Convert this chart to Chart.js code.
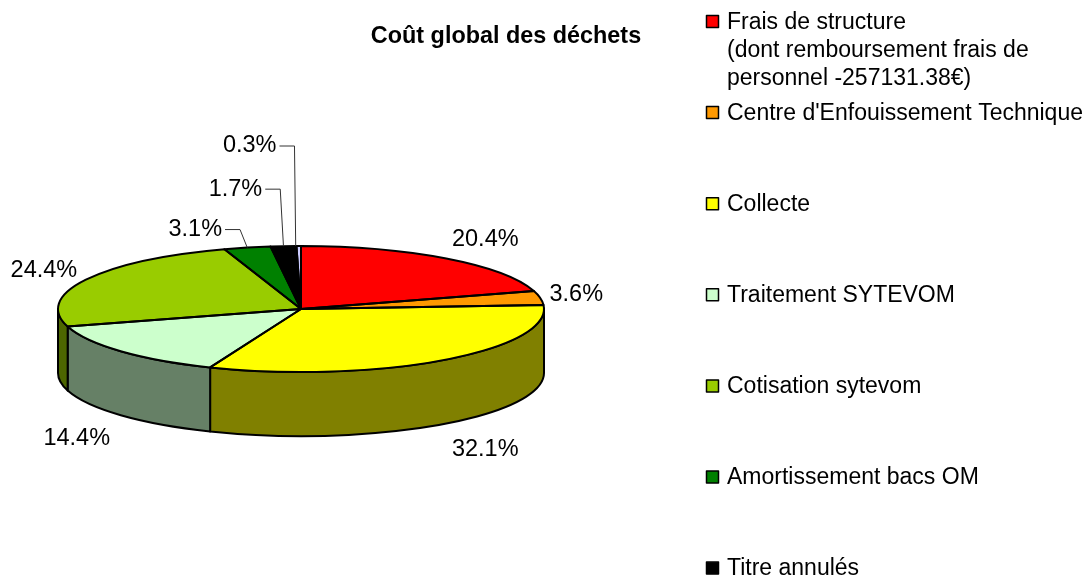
<!DOCTYPE html>
<html lang="fr"><head><meta charset="utf-8">
<script src="https://cdn.jsdelivr.net/npm/chart.js@4"></script>
<style>html,body{margin:0;padding:0;background:#fff}#w{width:1085px;height:577px;position:relative}</style>
</head><body><div id="w"><canvas id="c"></canvas></div>
<script>
const categories = ["Frais de structure","Centre d'Enfouissement Technique","Collecte","Traitement SYTEVOM","Cotisation sytevom","Amortissement bacs OM","Titre annulés",""];
const values = [20.4,3.6,32.1,14.4,24.4,3.1,1.7,0.3];
const colors = ["#FF0000","#FF9900","#FFFF00","#CCFFCC","#99CC00","#008000","#000000","#CCCCFF"];
const legendLines = [["Frais de structure","(dont remboursement frais de","personnel -257131.38€)"],["Centre d'Enfouissement Technique"],["Collecte"],["Traitement SYTEVOM"],["Cotisation sytevom"],["Amortissement bacs OM"],["Titre annulés"]];
const titleText = "Coût global des déchets";

const FONT = '"Liberation Sans", Arial, sans-serif';
const K = 63/243, DEPTH = 64;
// label offsets relative to the slice's mid-point on the rim; leader = has elbow line
const labelOff = [[39,-19],[36,-3],[42,89],[-44,87],[-42,-9],[-52,-18],[-48,-57],[-49,-100]];
const leader = [false,false,false,false,false,true,true,true];
const leaderEndDx = [0,0,0,0,0,0,0,-3];

function dark(hex){const n=parseInt(hex.slice(1),16);
  return `rgb(${Math.round((n>>16)/2)},${Math.round(((n>>8)&255)/2)},${Math.round((n&255)/2)})`;}

const pie3d = {
  id:'pie3d',
  beforeDatasetsDraw(chart){
    const ctx=chart.ctx, arcs=chart.getDatasetMeta(0).data;
    const {x,y}=arcs[0];
    ctx.save();
    ctx.lineWidth=2; ctx.strokeStyle='#000'; ctx.lineJoin='round';
    // side wall
    arcs.forEach((a,i)=>{
      const s=Math.max(a.startAngle,0), e=Math.min(a.endAngle,Math.PI);
      if(e<=s) return;
      const R=a.outerRadius;
      ctx.beginPath();
      ctx.ellipse(a.x,a.y,R,R*K,0,s,e);
      ctx.ellipse(a.x,a.y+DEPTH,R,R*K,0,e,s,true);
      ctx.closePath();
      ctx.fillStyle=dark(colors[i]);
      ctx.fill(); ctx.stroke();
    });
    ctx.restore();
    // flatten the library's own arcs into the ellipse
    ctx.save();
    ctx.translate(x,y); ctx.scale(1,K); ctx.translate(-x,-y);
  },
  afterDatasetsDraw(chart){
    const ctx=chart.ctx, arcs=chart.getDatasetMeta(0).data;
    ctx.restore();
    ctx.save();
    ctx.lineWidth=2; ctx.strokeStyle='#000'; ctx.lineJoin='round';
    arcs.forEach((a)=>{
      const R=a.outerRadius;
      ctx.beginPath();
      ctx.moveTo(a.x,a.y);
      ctx.ellipse(a.x,a.y,R,R*K,0,a.startAngle,a.endAngle);
      ctx.closePath();
      ctx.stroke();
    });
    // value labels
    ctx.font='23.5px '+FONT; ctx.textBaseline='middle'; ctx.textAlign='center';
    arcs.forEach((a,i)=>{
      const m=(a.startAngle+a.endAngle)/2, R=a.outerRadius;
      const px=a.x+R*Math.cos(m), py=a.y+R*K*Math.sin(m);
      const lx=px+labelOff[i][0], ly=py+labelOff[i][1];
      const txt=values[i].toFixed(1)+'%';
      if(leader[i]){
        const tw=ctx.measureText(txt).width;
        ctx.strokeStyle='#333'; ctx.lineWidth=1;
        ctx.beginPath();
        ctx.moveTo(lx+tw/2+3,ly);
        ctx.lineTo(lx+tw/2+18,ly);
        ctx.lineTo(px+leaderEndDx[i],py);
        ctx.stroke();
      }
      ctx.fillStyle='#000';
      ctx.fillText(txt,lx,ly);
    });
    // title
    ctx.font='bold 23.4px '+FONT; ctx.textAlign='center';
    ctx.fillText(titleText,506,37);
    // legend
    ctx.textAlign='left'; ctx.font='23px '+FONT;
    legendLines.forEach((lines,i)=>{
      const y=21.5+i*91.1;
      ctx.fillStyle=colors[i];
      ctx.fillRect(706.5,y-6,12,12);
      ctx.strokeStyle='#000'; ctx.lineWidth=1.5;
      ctx.strokeRect(706.5,y-6,12,12);
      ctx.fillStyle='#000';
      lines.forEach((t,j)=>ctx.fillText(t,727,y+1+j*28));
    });
    ctx.restore();
  }
};

new Chart(document.getElementById('c'),{
  type:'pie',
  data:{labels:categories,datasets:[{data:values,backgroundColor:colors,borderWidth:0,clip:false}]},
  options:{
    responsive:true,maintainAspectRatio:false,animation:false,
    layout:{padding:{left:58,right:541,top:66,bottom:25}},
    plugins:{legend:{display:false},title:{display:false},tooltip:{enabled:false}}
  },
  plugins:[pie3d]
});
</script></body></html>
